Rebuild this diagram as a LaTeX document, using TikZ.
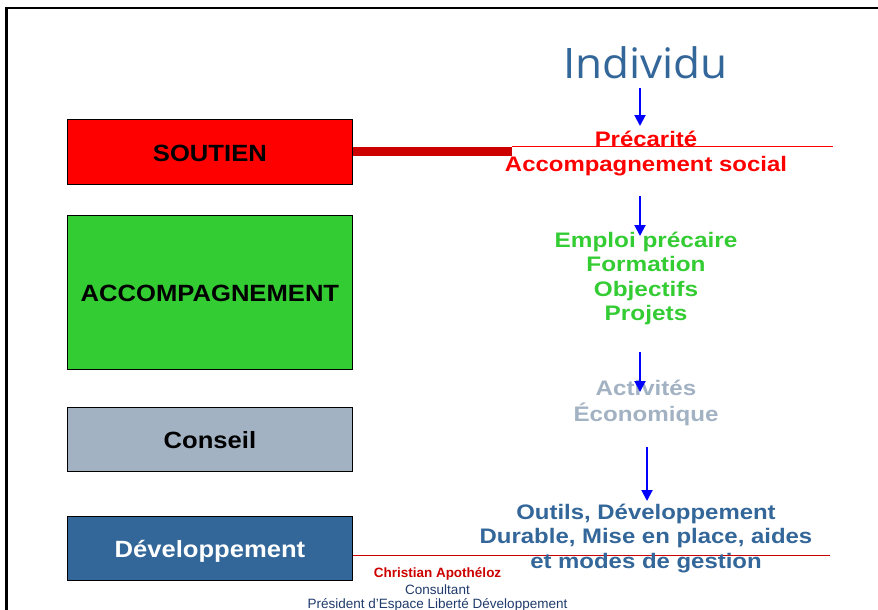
\documentclass[tikz,border=0pt]{standalone}
\usepackage{fontspec}
\usetikzlibrary{arrows.meta}
\setmainfont{Liberation Sans}
\newfontfamily\titlefont{Open Sans}
\definecolor{cred}{HTML}{FF0000}
\definecolor{cdred}{HTML}{CC0000}
\definecolor{cgreen}{HTML}{33CC33}
\definecolor{cgray}{HTML}{A2B2C3}
\definecolor{cblue}{HTML}{336699}
\definecolor{cnavy}{HTML}{1F3A6B}
\definecolor{carrow}{HTML}{0000FF}
\newcommand{\widetext}[2]{\scalebox{#1}[1]{\begin{tabular}{@{}c@{}}#2\end{tabular}}}
\newcommand{\boxlabel}[1]{\scalebox{1.09}[1]{#1}}
\tikzset{
  box/.style={draw=black, line width=0.8pt, minimum width=285pt, inner sep=0pt, text height=20pt, text depth=1.5pt, font=\fontsize{23.5}{24}\selectfont\bfseries},
  arr/.style={draw=carrow, line width=2pt, -{Triangle[length=11pt,width=11pt]}},
  rtext/.style={align=center, inner sep=0pt, font=\fontsize{21}{24.5}\selectfont\bfseries},
  foot/.style={inner sep=0pt, font=\fontsize{13.5}{14}\selectfont},
  footb/.style={inner sep=0pt, font=\fontsize{13.5}{14}\selectfont\bfseries},
}
\begin{document}
\begin{tikzpicture}[x=1pt,y=-1pt]
\useasboundingbox (0,0) rectangle (878,610);
\draw[line width=2.5pt] (6.5,615) -- (6.5,8) -- (885,8);
% left boxes
\node[box, fill=cred, minimum height=65pt, anchor=north west] (soutien) at (67,119) {\boxlabel{SOUTIEN}};
\node[box, fill=cgreen, minimum height=154pt, anchor=north west] (accomp) at (67,215) {\boxlabel{ACCOMPAGNEMENT}};
\node[box, fill=cgray, minimum height=64pt, anchor=north west] (conseil) at (67,407) {\boxlabel{Conseil}};
\node[box, fill=cblue, text=white, minimum height=64pt, anchor=north west] (dev) at (67,516) {\boxlabel{Développement}};
% connectors
\coordinate (barend) at (512,151);
\coordinate (thinend) at (833,146.5);
\coordinate (thinstart) at (512,146.5);
\draw[cdred, line width=9pt] (soutien.east |- barend) -- (barend);
\draw[cred, line width=1pt] (thinstart) -- (thinend);
\coordinate (devlineend) at (830,555);
\draw[cdred, line width=1pt] (dev.east |- devlineend) -- (devlineend);
% right column
\node[text=cblue, inner sep=0pt, anchor=base, font=\titlefont\fontsize{42}{42}\selectfont] (individu) at (645.5,78) {\scalebox{1.05}[1]{Individu}};
\node[rtext, text=cred] (prec) at (646,154) {\widetext{1.14}{Précarité\\Accompagnement social}};
\node[rtext, text=cgreen] (emploi) at (646,279) {\widetext{1.16}{Emploi précaire\\Formation\\Objectifs\\Projets}};
\node[rtext, text=cgray] (activ) at (646,404) {\widetext{1.15}{Activités\\Économique}};
\node[rtext, text=cblue] (outils) at (646,539) {\widetext{1.14}{Outils, Développement\\Durable, Mise en place, aides\\et modes de gestion}};
% arrows
\coordinate (a1s) at (640,88); \coordinate (a1e) at (640,126);
\coordinate (a2s) at (640,196); \coordinate (a2e) at (640,236);
\coordinate (a3s) at (640,352); \coordinate (a3e) at (640,392);
\coordinate (a4s) at (647,447); \coordinate (a4e) at (647,501);
\draw[arr] (a1s) -- (a1e);
\draw[arr] (a2s) -- (a2e);
\draw[arr] (a3s) -- (a3e);
\draw[arr] (a4s) -- (a4e);
% footer
\node[footb, text=cdred] (auth) at (437.5,574) {Christian Apothéloz};
\node[foot, text=cnavy] (cons) at (437.5,589.5) {Consultant};
\node[foot, text=cnavy] (pres) at (437.5,605) {Président d’Espace Liberté Développement};
\end{tikzpicture}
\end{document}
